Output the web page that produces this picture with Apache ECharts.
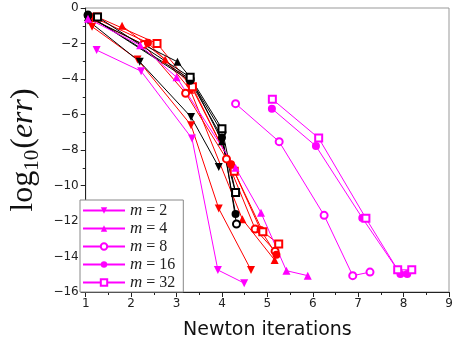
<!DOCTYPE html>
<html>
<head>
<meta charset="utf-8">
<script src="https://cdn.jsdelivr.net/npm/echarts@6/dist/echarts.min.js"></script>
<style>
  html, body { margin: 0; padding: 0; background: #fff; }
  #chart { width: 458px; height: 351px; }
</style>
</head>
<body>
<div id="chart"></div>
<script>
// [newton iterations, log10(err)]
const magM2 = [[1.24, -2.37], [2.22, -3.56], [3.34, -7.35], [3.91, -14.76], [4.49, -15.5]];
const magM4 = [[1.05, -0.6], [2.2, -2.1], [3.0, -3.9], [4.3, -9.0], [4.86, -11.54], [5.42, -14.8], [5.89, -15.08]];
const magM8 = [[4.3, -5.39], [5.26, -7.53], [6.25, -11.68], [6.88, -15.08], [7.26, -14.88]];
const magM16 = [[5.1, -5.67], [6.07, -7.78], [7.09, -11.83], [7.93, -14.99], [8.08, -14.99]];
const magM32 = [[5.11, -5.14], [6.13, -7.33], [7.17, -11.85], [7.87, -14.75], [8.18, -14.75]];

const redM2 = [[1.14, -1.05], [2.14, -2.9], [3.32, -6.6], [3.93, -11.3], [4.64, -14.76]];
const redM4 = [[1.8, -1.0], [2.75, -2.9], [3.3, -4.6], [4.45, -11.9], [5.16, -14.2]];
const redM8 = [[1.1, -0.6], [2.27, -2.05], [3.2, -4.8], [4.1, -8.5], [4.73, -12.45], [5.17, -13.7]];
const redM16 = [[1.15, -0.5], [2.37, -1.96], [3.3, -4.3], [4.2, -8.8], [4.85, -12.5], [5.2, -13.9]];
const redM32 = [[1.25, -0.5], [2.57, -2.0], [3.35, -4.44], [4.27, -9.2], [4.9, -12.6], [5.25, -13.3]];

const blkM2 = [[1.05, -0.7], [2.19, -3.03], [3.32, -6.14], [3.93, -8.96]];
const blkM4 = [[1.05, -0.5], [3.02, -3.03], [3.3, -3.9], [4.0, -7.5], [4.3, -10.4]];
const blkM8 = [[1.05, -0.4], [3.3, -4.0], [4.0, -7.0], [4.32, -12.17]];
const blkM16 = [[1.05, -0.4], [3.3, -4.1], [4.0, -7.3], [4.3, -11.6]];
const blkM32 = [[1.26, -0.5], [3.3, -3.9], [4.0, -6.8], [4.3, -10.4]];

const mValues = ['2', '4', '8', '16', '32'];
const xTicks = [1, 2, 3, 4, 5, 6, 7, 8, 9];
const yTicks = [0, -2, -4, -6, -8, -10, -12, -14, -16];

const markers = {
  '2': { symbol: 'triangle', rotate: 180, empty: false },
  '4': { symbol: 'triangle', rotate: 0, empty: false },
  '8': { symbol: 'circle', rotate: 0, empty: true },
  '16': { symbol: 'circle', rotate: 0, empty: false },
  '32': { symbol: 'rect', rotate: 0, empty: true },
};

function makeSeries(name, data, m, color) {
  const mk = markers[m];
  return {
    name,
    type: 'line',
    data,
    symbol: mk.symbol,
    symbolRotate: mk.rotate,
    symbolSize: mk.empty ? 7 : 8,
    lineStyle: { color, width: 1 },
    itemStyle: mk.empty
      ? { color: '#fff', borderColor: color, borderWidth: 2 }
      : { color, borderColor: color, borderWidth: 0 },
    emphasis: { disabled: true },
    animation: false,
    z: 2,
  };
}

const series = [
  makeSeries('r2', redM2, '2', '#ff0000'),
  makeSeries('r4', redM4, '4', '#ff0000'),
  makeSeries('r8', redM8, '8', '#ff0000'),
  makeSeries('r16', redM16, '16', '#ff0000'),
  makeSeries('r32', redM32, '32', '#ff0000'),
  makeSeries('k2', blkM2, '2', '#000000'),
  makeSeries('k4', blkM4, '4', '#000000'),
  makeSeries('k8', blkM8, '8', '#000000'),
  makeSeries('k16', blkM16, '16', '#000000'),
  makeSeries('k32', blkM32, '32', '#000000'),
  makeSeries('m2', magM2, '2', '#ff00ff'),
  makeSeries('m4', magM4, '4', '#ff00ff'),
  makeSeries('m8', magM8, '8', '#ff00ff'),
  makeSeries('m16', magM16, '16', '#ff00ff'),
  makeSeries('m32', magM32, '32', '#ff00ff'),
];

const chart = echarts.init(document.getElementById('chart'), null, { renderer: 'canvas' });

const tickFont = { color: '#222', fontSize: 12, fontFamily: 'DejaVu Sans' };

chart.setOption({
  backgroundColor: '#fff',
  animation: false,
  grid: {
    left: 76, right: 9, top: 8, bottom: 59,
    show: true, borderColor: '#999', borderWidth: 1,
  },
  legend: {
    data: mValues.map(v => 'm' + v),
    orient: 'vertical',
    left: 80, top: 200,
    itemWidth: 42, itemHeight: 8,
    itemGap: 1,
    padding: [2, 8, 1, 2],
    backgroundColor: '#fff',
    borderColor: '#888', borderWidth: 1, borderRadius: 0,
    formatter: name => '{i|m} = ' + name.slice(1),
    textStyle: {
      fontFamily: 'Liberation Serif', fontSize: 16, color: '#222', lineHeight: 15,
      rich: { i: { fontStyle: 'italic', fontFamily: 'Liberation Serif', fontSize: 17, color: '#222', lineHeight: 15 } },
    },
  },
  xAxis: {
    type: 'value',
    min: xTicks[0], max: xTicks[xTicks.length - 1], interval: 1,
    name: 'Newton iterations',
    nameLocation: 'middle', nameGap: 29,
    nameTextStyle: { fontFamily: 'DejaVu Sans', fontSize: 19, color: '#111' },
    axisLine: { show: true, onZero: false, lineStyle: { color: '#222', width: 1 } },
    axisTick: { show: true, inside: false, length: 5, lineStyle: { color: '#222' } },
    minorTick: { show: true, splitNumber: 2, length: 3, lineStyle: { color: '#222' } },
    axisLabel: { ...tickFont, margin: 6 },
    splitLine: { show: false },
  },
  yAxis: {
    type: 'value',
    min: yTicks[yTicks.length - 1], max: yTicks[0], interval: 2,
    name: '{a|log}{b|10}{a|(}{c|err}{a|)}',
    nameLocation: 'middle', nameGap: 30, nameRotate: 90,
    nameTextStyle: {
      rich: {
        a: { fontFamily: 'Liberation Serif', fontSize: 32, color: '#111' },
        b: { fontFamily: 'Liberation Serif', fontSize: 21, color: '#111', padding: [16, 1, 0, 0] },
        c: { fontFamily: 'Liberation Serif', fontSize: 32, fontStyle: 'italic', color: '#111' },
      },
    },
    axisLine: { show: true, onZero: false, lineStyle: { color: '#222', width: 1 } },
    axisTick: { show: true, inside: false, length: 5, lineStyle: { color: '#222' } },
    minorTick: { show: true, splitNumber: 2, length: 3, lineStyle: { color: '#222' } },
    axisLabel: { ...tickFont, margin: 7, formatter: v => (v < 0 ? '\u2212' + Math.abs(v) : String(v)) },
    splitLine: { show: false },
  },
  series,
});
</script>
</body>
</html>
